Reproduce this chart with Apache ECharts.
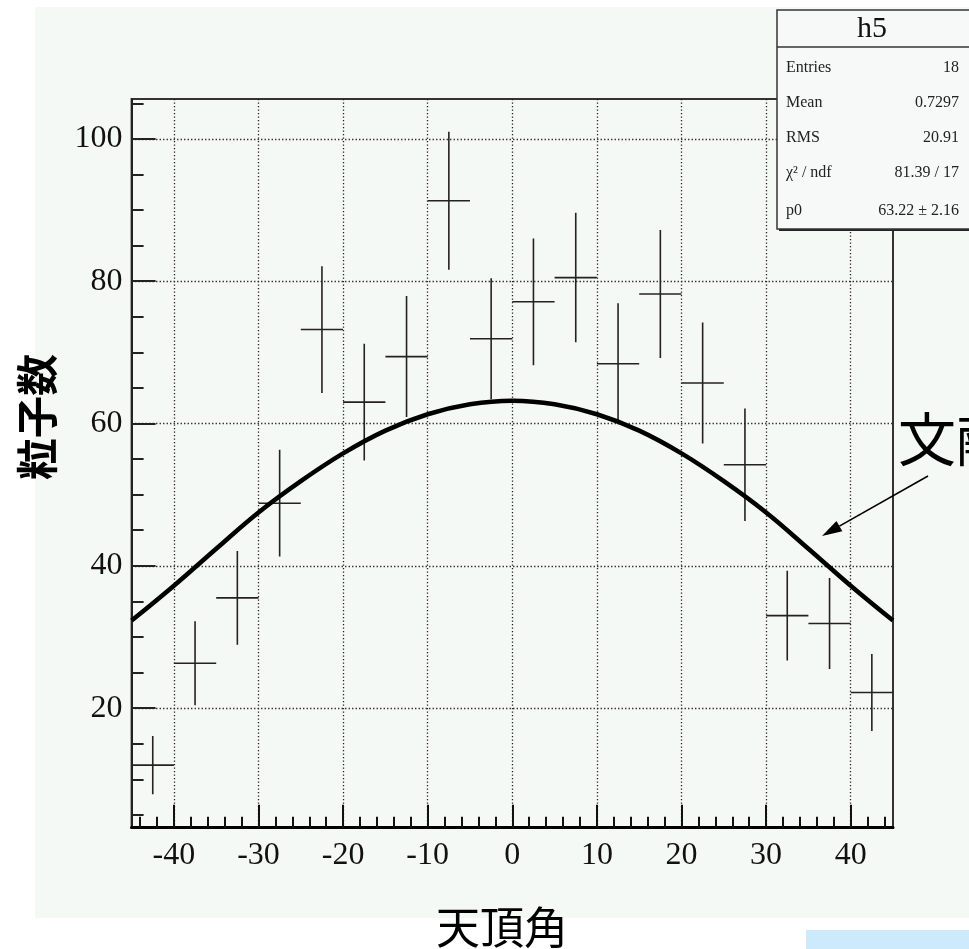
<!DOCTYPE html>
<html>
<head>
<meta charset="utf-8">
<title>天頂角分布</title>
<script src="https://cdn.jsdelivr.net/npm/echarts@6/dist/echarts.min.js"></script>
<style>
  html, body { margin: 0; padding: 0; background: #ffffff; }
  #chart { width: 969px; height: 949px; }
</style>
</head>
<body>
<div id="chart"></div>
<script>
// Histogram h5: counts per 5-degree zenith-angle bin, with error bars
const binCenters = [-42.5, -37.5, -32.5, -27.5, -22.5, -17.5, -12.5, -7.5, -2.5,
                    2.5, 7.5, 12.5, 17.5, 22.5, 27.5, 32.5, 37.5, 42.5];
const binHalfWidth = 2.5;
const counts = [12.0, 26.3, 35.5, 48.8, 73.2, 63.0, 69.4, 91.3, 71.9,
                77.1, 80.5, 68.4, 78.2, 65.7, 54.2, 33.0, 31.9, 22.2];
const errors = [4.1, 5.9, 6.6, 7.5, 8.9, 8.2, 8.5, 9.7, 8.5,
                8.9, 9.1, 8.5, 9.0, 8.5, 7.9, 6.3, 6.4, 5.4];

// Fitted curve (literature shape), sampled every 5 degrees
const fitX = [-45, -40, -35, -30, -25, -20, -15, -10, -5, 0,
              5, 10, 15, 20, 25, 30, 35, 40, 45];
const fitY = [32.3, 37.2, 42.4, 47.5, 51.9, 55.8, 59.0, 61.3, 62.7, 63.2,
              62.7, 61.3, 59.0, 55.8, 51.9, 47.5, 42.4, 37.2, 32.3];

// Axis ticks
const xMajorTicks = [-40, -30, -20, -10, 0, 10, 20, 30, 40];
const xMinorTicks = [-44, -42, -38, -36, -34, -32, -28, -26, -24, -22, -18, -16, -14, -12,
                     -8, -6, -4, -2, 2, 4, 6, 8, 12, 14, 16, 18, 22, 24, 26, 28,
                     32, 34, 36, 38, 42, 44];
const yMajorTicks = [20, 40, 60, 80, 100];
const yMinorTicks = [5, 10, 15, 25, 30, 35, 45, 50, 55, 65, 70, 75, 85, 90, 95, 105];
const xRange = [-45, 45];
const yRange = [3.2, 105.6];

// Statistics box rows
const statsTitle = 'h5';
const statsLabels = ['Entries', 'Mean', 'RMS', 'χ² / ndf', 'p0'];
const statsValues = ['18', '0.7297', '20.91', '81.39 / 17', '63.22 ± 2.16'];

const serif = '"Liberation Serif", "DejaVu Serif", serif';
const cjk = '"Noto Sans CJK JP", "Noto Sans CJK SC", sans-serif';

const chart = echarts.init(document.getElementById('chart'), null, { renderer: 'canvas' });

const dotted = { color: '#222', width: 1.3, type: [1.3, 2.2] };

const statsGraphics = [];
const boxLeft = 777, boxTop = 10, boxRight = 972, boxBottom = 229, headerBottom = 47;
statsGraphics.push({
  type: 'rect', z: 100,
  shape: { x: boxLeft + 2, y: boxTop + 2, width: boxRight - boxLeft, height: boxBottom - boxTop },
  style: { fill: '#222' }
});
statsGraphics.push({
  type: 'rect', z: 101,
  shape: { x: boxLeft, y: boxTop, width: boxRight - boxLeft, height: boxBottom - boxTop },
  style: { fill: '#f7f9f8', stroke: '#333', lineWidth: 1.5 }
});
statsGraphics.push({
  type: 'line', z: 102,
  shape: { x1: boxLeft, y1: headerBottom, x2: boxRight, y2: headerBottom },
  style: { stroke: '#333', lineWidth: 1.5 }
});
statsGraphics.push({
  type: 'text', z: 102, x: 872, y: 29,
  style: { text: statsTitle, font: '30px ' + serif, fill: '#111', align: 'center', verticalAlign: 'middle' }
});
const rowY = [68, 103, 138, 173, 211];
statsLabels.forEach((lab, i) => {
  statsGraphics.push({
    type: 'text', z: 102, x: 786, y: rowY[i],
    style: { text: lab, font: '16px ' + serif, fill: '#222', align: 'left', verticalAlign: 'middle' }
  });
  statsGraphics.push({
    type: 'text', z: 102, x: 959, y: rowY[i],
    style: { text: statsValues[i], font: '16px ' + serif, fill: '#222', align: 'right', verticalAlign: 'middle' }
  });
});

// annotation arrow pointing at the fitted curve
const tip = [822, 536], tail = [928, 476];
const dx = tail[0] - tip[0], dy = tail[1] - tip[1];
const len = Math.sqrt(dx * dx + dy * dy);
const ux = dx / len, uy = dy / len;
const headLen = 20, headHalf = 6;
const bx = tip[0] + ux * headLen, by = tip[1] + uy * headLen;

const option = {
  backgroundColor: '#ffffff',
  animation: false,
  grid: {
    left: 131.6, right: 969 - 893, top: 99, bottom: 949 - 827.7,
    show: true, borderColor: '#333', borderWidth: 2, backgroundColor: 'transparent'
  },
  xAxis: [
    {
      type: 'value', min: xRange[0], max: xRange[1], position: 'bottom',
      axisLine: { show: true, onZero: false, lineStyle: { color: '#000', width: 3 } },
      axisTick: { show: true, inside: true, length: 23, customValues: xMajorTicks, lineStyle: { color: '#111', width: 2 } },
      axisLabel: { show: true, customValues: xMajorTicks, margin: 12, fontFamily: serif, fontSize: 32, color: '#111' },
      splitLine: { show: true, lineStyle: dotted },
      minorTick: { show: false }
    },
    {
      type: 'value', min: xRange[0], max: xRange[1], position: 'bottom',
      axisLine: { show: false, onZero: false },
      axisTick: { show: true, inside: true, length: 11, customValues: xMinorTicks, lineStyle: { color: '#111', width: 2 } },
      axisLabel: { show: false },
      splitLine: { show: false }
    }
  ],
  yAxis: [
    {
      type: 'value', min: yRange[0], max: yRange[1], position: 'left',
      axisLine: { show: true, onZero: false, lineStyle: { color: '#222', width: 2 } },
      axisTick: { show: true, inside: true, length: 24, customValues: yMajorTicks, lineStyle: { color: '#222', width: 2 } },
      axisLabel: { show: true, customValues: yMajorTicks, margin: 9, fontFamily: serif, fontSize: 32, color: '#111' },
      splitLine: { show: true, lineStyle: dotted }
    },
    {
      type: 'value', min: yRange[0], max: yRange[1], position: 'left',
      axisLine: { show: false, onZero: false },
      axisTick: { show: true, inside: true, length: 12, customValues: yMinorTicks, lineStyle: { color: '#222', width: 2 } },
      axisLabel: { show: false },
      splitLine: { show: false }
    }
  ],
  series: [
    {
      name: 'h5',
      type: 'custom',
      xAxisIndex: 0, yAxisIndex: 0,
      z: 3,
      clip: true,
      data: binCenters.map((c, i) => [c, counts[i], errors[i]]),
      renderItem: function (params, api) {
        const x = api.value(0), y = api.value(1), e = api.value(2);
        const left = api.coord([x - binHalfWidth, y]);
        const right = api.coord([x + binHalfWidth, y]);
        const top = api.coord([x, y + e]);
        const bottom = api.coord([x, y - e]);
        const style = { stroke: '#222', lineWidth: 1.6 };
        return {
          type: 'group',
          children: [
            { type: 'line', shape: { x1: left[0], y1: left[1], x2: right[0], y2: right[1] }, style: style },
            { type: 'line', shape: { x1: top[0], y1: top[1], x2: bottom[0], y2: bottom[1] }, style: style }
          ]
        };
      }
    },
    {
      name: 'fit',
      type: 'line',
      xAxisIndex: 0, yAxisIndex: 0,
      z: 4,
      smooth: 0.4,
      symbol: 'none',
      data: fitX.map((x, i) => [x, fitY[i]]),
      lineStyle: { color: '#000', width: 4.5 }
    }
  ],
  graphic: [
    // canvas panel
    { type: 'rect', z: -10, silent: true, shape: { x: 35, y: 7, width: 934, height: 911 }, style: { fill: '#f5f9f6' } },
    { type: 'rect', z: -10, silent: true, shape: { x: 806, y: 930, width: 163, height: 19 }, style: { fill: '#cdeafc' } },
    // axis titles
    {
      type: 'text', z: 50, x: 502, y: 927,
      style: { text: '天頂角', font: '44px ' + cjk, fill: '#000', align: 'center', verticalAlign: 'middle' }
    },
    {
      type: 'text', z: 50, x: 37, y: 417, rotation: Math.PI / 2,
      style: { text: '粒子数', font: 'bold 42px ' + cjk, fill: '#000', align: 'center', verticalAlign: 'middle' }
    },
    // annotation
    {
      type: 'text', z: 50, x: 898, y: 439,
      style: { text: '文献値', font: '58px ' + cjk, fill: '#000', align: 'left', verticalAlign: 'middle' }
    },
    {
      type: 'line', z: 50,
      shape: { x1: tail[0], y1: tail[1], x2: bx, y2: by },
      style: { stroke: '#000', lineWidth: 1.6 }
    },
    {
      type: 'polygon', z: 50,
      shape: { points: [tip, [bx - uy * headHalf, by + ux * headHalf], [bx + uy * headHalf, by - ux * headHalf]] },
      style: { fill: '#000' }
    }
  ].concat(statsGraphics)
};

chart.setOption(option);
</script>
</body>
</html>
